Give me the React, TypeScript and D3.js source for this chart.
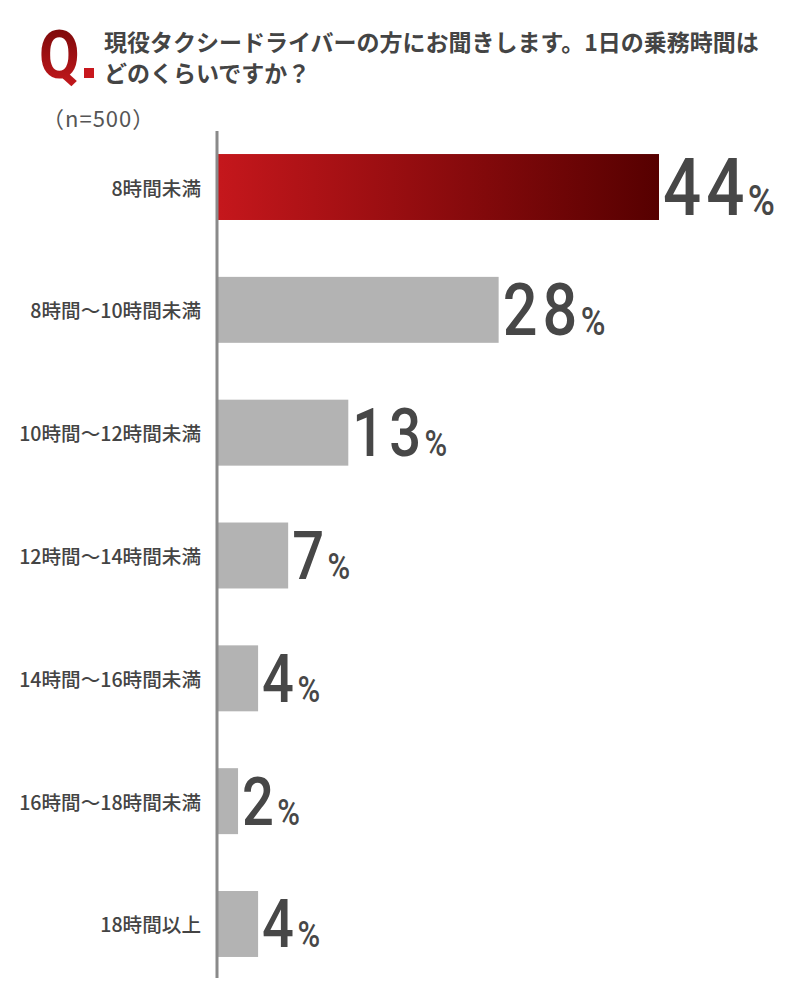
import React from 'react';
import * as d3 from 'd3';

// 回答項目
const categories: string[] = [
  '8時間未満',
  '8時間〜10時間未満',
  '10時間〜12時間未満',
  '12時間〜14時間未満',
  '14時間〜16時間未満',
  '16時間〜18時間未満',
  '18時間以上',
];

// 割合（%）
const percents: number[] = [44, 28, 13, 7, 4, 2, 4];

const titleLines: string[] = [
  '現役タクシードライバーの方にお聞きします。1日の乗務時間は',
  'どのくらいですか？',
];
const sampleNote = '（n=500）';

const width = 800;
const height = 1000;
const jpFont = '"Noto Sans CJK JP", "Noto Sans", sans-serif';
const numFont = 'Roboto, "DejaVu Sans", sans-serif';

const App: React.FC = () => {
  const y = d3
    .scaleBand<string>()
    .domain(categories)
    .range([125.6, 985.4])
    .paddingInner(0.463)
    .paddingOuter(0.2315);

  const x = d3.scaleLinear().domain([0, 44]).range([218, 659]);

  const maxVal = d3.max(percents) || 0;
  const numSize = (v: number) => (v === maxVal ? 79 : v >= 20 ? 72 : 66);

  return (
    <svg
      width={width}
      height={height}
      style={{ position: 'absolute', left: 0, top: 0, background: '#fff' }}
    >
      <defs>
        <linearGradient id="topBar" x1="0" x2="1" y1="0" y2="0">
          <stop offset="0%" stopColor="#c5171c" />
          <stop offset="100%" stopColor="#560000" />
        </linearGradient>
        <linearGradient id="qMark" x1="0" x2="0" y1="0" y2="1">
          <stop offset="0%" stopColor="#6e0606" />
          <stop offset="100%" stopColor="#cc1a1f" />
        </linearGradient>
      </defs>

      {/* タイトル */}
      <g transform="translate(39,78) scale(0.88,1)">
        <text fontFamily={numFont} fontWeight={700} fontSize={67} fill="url(#qMark)">
          Q
        </text>
      </g>
      <rect x={84} y={68} width={10} height={10} fill="#c8181e" />
      {titleLines.map((t, i) => (
        <text
          key={i}
          x={104}
          y={51 + i * 31}
          fontFamily={jpFont}
          fontWeight={700}
          fontSize={23}
          fill="#444"
        >
          {t}
        </text>
      ))}
      <text x={42} y={127} fontFamily={jpFont} fontSize={22} letterSpacing={1} fill="#555">
        {sampleNote}
      </text>

      {/* バー */}
      {categories.map((c, i) => (
        <rect
          key={c}
          x={x(0)}
          y={y(c)}
          width={x(percents[i]) - x(0)}
          height={y.bandwidth()}
          fill={i === 0 ? 'url(#topBar)' : '#b3b3b3'}
        />
      ))}

      {/* 軸線 */}
      <line x1={217} x2={217} y1={131} y2={978} stroke="#8a8a8a" strokeWidth={3} />

      {/* 項目ラベル */}
      {categories.map((c) => (
        <text
          key={c}
          x={201}
          y={(y(c) || 0) + y.bandwidth() / 2}
          textAnchor="end"
          dominantBaseline="central"
          fontFamily={jpFont}
          fontWeight={500}
          fontSize={19.6}
          fill="#444"
        >
          {c}
        </text>
      ))}

      {/* 数値ラベル */}
      {categories.map((c, i) => {
        const v = percents[i];
        const fs = numSize(v);
        const cy = (y(c) || 0) + y.bandwidth() / 2;
        return (
          <g key={c} transform={`translate(${x(v) + 4},${cy + fs * 0.355}) scale(0.85,1)`}>
            <text fontFamily={numFont} fontWeight={500} fill="#474747" letterSpacing={6}>
              <tspan fontSize={fs}>{v}</tspan>
              <tspan fontSize={fs * 0.55} dx={-2}>%</tspan>
            </text>
          </g>
        );
      })}
    </svg>
  );
};

export default App;
